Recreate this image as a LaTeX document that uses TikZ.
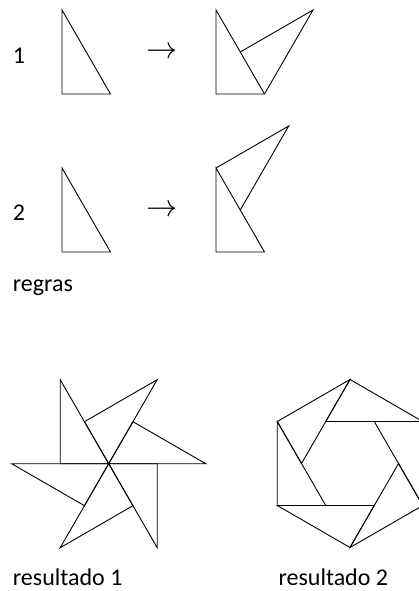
\documentclass[tikz,border=0pt]{standalone}
\usepackage{fontspec}
\usepackage{graphicx}
\setmainfont{Carlito}
\begin{document}
\begin{tikzpicture}[x=1pt,y=-1pt,
  tri/.style={draw=black,line width=0.9pt,line join=miter},
  lbl/.style={inner sep=0pt,anchor=base west,font=\fontsize{24}{28}\selectfont},
  arr/.style={inner sep=0pt,anchor=center,font=\fontsize{20}{24}\selectfont}]
\useasboundingbox (0,0) rectangle (419,591);
% labels
\node[lbl] (n1) at (12.7,63.5) {1};
\node[lbl] (n2) at (12.7,220) {2};
\node[lbl] (regras) at (12.7,291) {regras};
\node[lbl] (res1) at (12.7,585.5) {resultado 1};
\node[lbl] (res2) at (278.3,585.5) {resultado 2};
\node[arr] (a1) at (161.7,52.3) {\scalebox{1.5}{$\rightarrow$}};
\node[arr] (a2) at (161.7,211) {\scalebox{1.5}{$\rightarrow$}};
% rule 1
\coordinate (r1a) at (62,10); \coordinate (r1b) at (62,94); \coordinate (r1c) at (110.5,94);
\draw[tri] (r1a)--(r1b)--(r1c)--cycle;
\coordinate (q1a) at (216,10); \coordinate (q1b) at (216,94); \coordinate (q1c) at (264.5,94);
\coordinate (q1m) at (240.25,52); \coordinate (q1f) at (313,10);
\draw[tri] (q1a)--(q1b)--(q1c)--cycle;
\draw[tri] (q1m)--(q1f)--(q1c);
% rule 2
\coordinate (r2a) at (62,168); \coordinate (r2b) at (62,252); \coordinate (r2c) at (110.5,252);
\draw[tri] (r2a)--(r2b)--(r2c)--cycle;
\coordinate (q2a) at (216,168); \coordinate (q2b) at (216,252); \coordinate (q2c) at (264.5,252);
\coordinate (q2m) at (240.25,210); \coordinate (q2f) at (288.7,126);
\draw[tri] (q2a)--(q2b)--(q2c)--cycle;
\draw[tri] (q2m)--(q2f)--(q2a);
% result 1
\coordinate (C1) at (108.7,463.7);
\foreach \r in {0,180}{
  \begin{scope}[shift={(C1)},rotate=\r]
    \draw[tri] (-48.5,-84)--(-48.5,0)--(0,0)--cycle;
    \draw[tri] (-24.25,-42)--(48.5,-84)--(0,0)--cycle;
    \draw[tri] (24.25,-42)--(97,0)--(0,0)--cycle;
  \end{scope}
}
% result 2 (cut at the right edge)
\begin{scope}
\clip (0,300) rectangle (419.5,560);
\coordinate (C2) at (350,463.5);
\foreach \r in {0,60,...,300}{
  \begin{scope}[shift={(C2)},rotate=\r]
    \draw[tri] (-72.75,-42)--(0,-84)--(-48.5,0)--cycle;
  \end{scope}
}
\end{scope}
\end{tikzpicture}
\end{document}
